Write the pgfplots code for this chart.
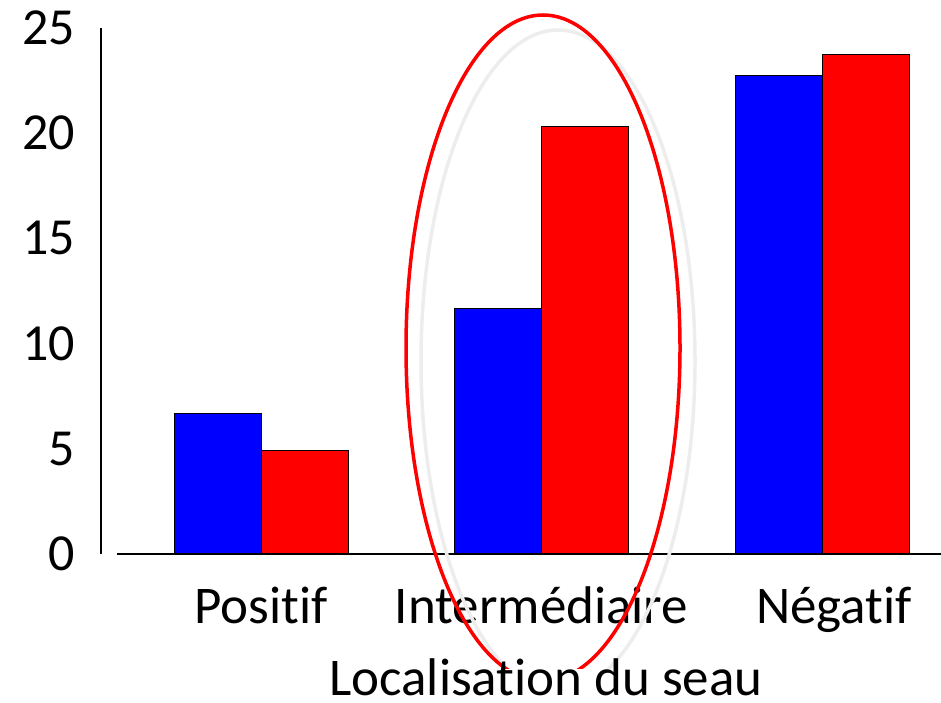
\documentclass[border=0pt]{standalone}
\usepackage{fontspec}
\setmainfont[Ligatures={NoCommon}]{Carlito}
\usepackage{pgfplots}
\pgfplotsset{compat=1.18}
\definecolor{barblue}{RGB}{0,0,255}
\definecolor{barred}{RGB}{255,0,0}
\begin{document}
\begin{tikzpicture}[x=1pt,y=1pt]
\useasboundingbox (0,0) rectangle (941,702);
\begin{axis}[at={(101pt,148pt)}, anchor=south west, scale only axis,
 width=840pt, height=526pt,
 xmin=-0.5704, xmax=2.4242, ymin=0, ymax=25,
 ybar=0pt, bar width=87pt,
 axis line style={draw=none}, major tick length=0pt,
 xtick={0,1,2.043}, xticklabels={Positif,Intermédiaire,Négatif},
 ytick={0,5,10,15,20,25},
 /pgf/number format/assume math mode=true,
 xticklabel style={font=\fontsize{53}{63}\selectfont, anchor=base, yshift=-69pt},
 yticklabel style={font=\fontsize{52}{62}\selectfont, anchor=east, inner sep=0pt, xshift=-26pt},
 clip=false,
]
\addplot[fill=barblue, draw=black, line width=1pt] coordinates {(0,6.70) (1,11.69) (2,22.72)};
\addplot[fill=barred, draw=black, line width=1pt] coordinates {(0,4.94) (1,20.34) (2,23.76)};
\draw[line width=2pt] (axis cs:-0.5704,0) -- (axis cs:-0.5704,25);
\draw[line width=2.5pt] (axis cs:-0.5134,0) -- (axis cs:2.4242,0);
\end{axis}
\draw[black!7, line width=3.5pt] (558,341) ellipse [x radius=137, y radius=331];
\draw[barred, line width=3.5pt] (543,354) ellipse [x radius=137, y radius=333];
\node[fill=white, inner sep=0pt, text height=26pt, text depth=12pt, anchor=base, font=\fontsize{53}{63}\selectfont] at (546,7) {Localisation du seau};
\end{tikzpicture}
\end{document}
